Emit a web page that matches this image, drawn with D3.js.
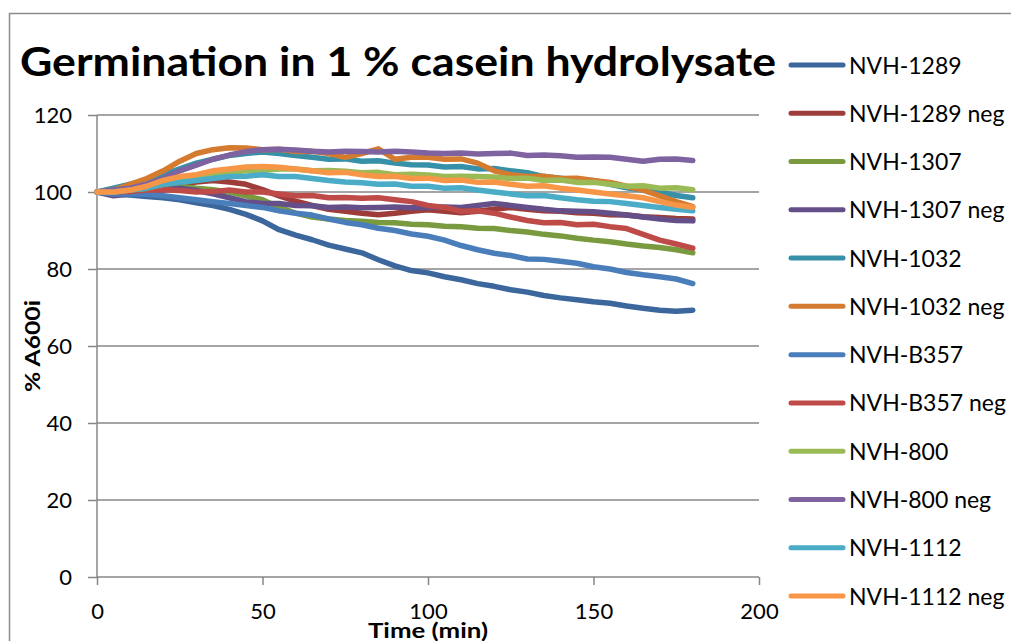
<!DOCTYPE html>
<html>
<head>
<meta charset="utf-8">
<script src="https://cdn.jsdelivr.net/npm/d3@7"></script>
<style>
  html, body { margin: 0; padding: 0; background: #fff; }
  svg { display: block; font-family: Lato, "Open Sans", sans-serif; }
</style>
</head>
<body>
<svg id="chart" width="1011" height="641"></svg>
<script>
// ---- data (every 5 min) ----
const minutes = [0, 5, 10, 15, 20, 25, 30, 35, 40, 45, 50, 55, 60, 65, 70, 75, 80, 85, 90,
  95, 100, 105, 110, 115, 120, 125, 130, 135, 140, 145, 150, 155, 160, 165, 170, 175, 180];

const seriesNames = ['NVH-1289', 'NVH-1289 neg', 'NVH-1307', 'NVH-1307 neg', 'NVH-1032', 'NVH-1032 neg',
  'NVH-B357', 'NVH-B357 neg', 'NVH-800', 'NVH-800 neg', 'NVH-1112', 'NVH-1112 neg'];

const seriesColors = ['#3c679c', '#9d3c39', '#7a9a3f', '#644f88', '#3690a8', '#d47b30',
  '#4a7ebb', '#be4b48', '#99ba55', '#7f63a1', '#4aacc6', '#f79646'];

const nvh1289 = [100, 99.5, 99.2, 98.8, 98.5, 98, 97.2, 96.5, 95.5, 94.2, 92.5, 90.2, 88.8, 87.6, 86.2, 85.2, 84.2, 82.4,
  80.8, 79.6, 79, 78, 77.2, 76.2, 75.5, 74.6, 74, 73.1, 72.5, 72, 71.5, 71.1, 70.4, 69.8, 69.3, 69, 69.3];
const nvh1289neg = [100, 100.4, 100.6, 101, 101.5, 102, 102.6, 103, 102.6, 102, 100.6, 99, 97.6, 96.5, 95.5, 95, 94.5, 94.1,
  94.5, 95, 95.4, 95, 94.6, 95, 95.5, 96, 95.5, 95.1, 95, 94.6, 94.5, 94.1, 94, 93.6, 93.4, 93.1, 93];
const nvh1307 = [100, 100, 100.5, 101, 101.4, 101.5, 101, 100.6, 100, 99, 98, 96, 94.5, 93.5, 93, 92.6, 92.4, 92.1,
  92, 91.6, 91.5, 91.1, 91, 90.6, 90.5, 90, 89.6, 89, 88.6, 88, 87.5, 87.1, 86.5, 86, 85.6, 85, 84.2];
const nvh1307neg = [100, 99, 99.5, 100, 100.5, 101, 100.4, 99.5, 98.5, 97.5, 97, 97, 96.5, 96.4, 96, 96.1, 95.9, 96,
  96.1, 95.9, 96, 96.1, 96, 96.5, 97, 96.5, 96, 95.5, 95.1, 95, 94.9, 94.5, 94, 93.5, 93, 92.6, 92.5];
const nvh1032 = [100, 101, 102, 103, 104.5, 106, 107.5, 108.5, 109.5, 110, 110.4, 110, 109.5, 109, 108.5, 108.6, 108, 108.1,
  107.5, 107.1, 107, 106.5, 106.6, 106, 106.1, 105.5, 105, 104, 103.6, 103, 103, 102, 101.1, 100.5, 100, 99.1, 98.5];
const nvh1032neg = [100, 100.5, 102, 103.5, 105.5, 108, 110, 111, 111.5, 111.4, 111, 111.1, 110.5, 110.6, 110, 109, 110, 111.2,
  108.5, 109, 109, 108.5, 108.6, 107.5, 105.5, 104.5, 104, 104.1, 103.5, 103.6, 103, 102.5, 101.5, 100.5, 99, 97.5, 96.2];
const nvhB357 = [100, 99.5, 99.5, 99.4, 99, 98.5, 98, 97.5, 97, 96.5, 96, 95.1, 94.5, 94, 93, 92.1, 91.5, 90.6,
  90, 89.1, 88.5, 87.5, 86.1, 85, 84.1, 83.5, 82.6, 82.5, 82, 81.5, 80.6, 80, 79.1, 78.5, 78, 77.4, 76.2];
const nvhB357neg = [100, 100, 100.1, 100.5, 100.6, 100.4, 100, 100.1, 100.5, 100, 100, 99.5, 99, 99.1, 98.5, 98.6, 98.4, 98.5,
  98, 97.5, 96.5, 96, 95, 95.1, 94.5, 93.5, 92.6, 92, 92.1, 91.5, 91.6, 91, 90.5, 89, 87.5, 86.5, 85.4];
const nvh800 = [100, 100, 100.5, 101, 102, 103, 104, 104.5, 105, 105.5, 105.6, 106, 106, 105.5, 105.6, 105.4, 105, 105.1,
  104.5, 104.6, 104.4, 104, 104.1, 104, 103.9, 103.5, 103.6, 103, 103.1, 102.5, 102.5, 102, 101.5, 101.6, 101, 101.1, 100.6];
const nvh800neg = [100, 100.5, 101, 102, 103.5, 105.5, 107, 108.5, 109.6, 110.5, 111, 111.1, 110.9, 110.6, 110.4, 110.6, 110.5, 110.4,
  110.6, 110.4, 110.1, 110, 110.1, 109.9, 110, 110.1, 109.5, 109.6, 109.4, 109, 109.1, 109, 108.5, 108, 108.5, 108.6, 108.2];
const nvh1112 = [100, 100, 100.5, 101, 102, 102.5, 103, 103.5, 104, 104.1, 104.5, 104, 104, 103.5, 103, 102.6, 102.4, 102,
  102.1, 101.5, 101.5, 101, 101.1, 100.5, 100, 99.5, 99, 99.1, 98.5, 98, 97.6, 97.5, 97, 96.5, 96, 95.5, 95.1];
const nvh1112neg = [100, 100, 100.5, 101.5, 103, 104, 104.5, 105.5, 106, 106.5, 106.6, 106.4, 106, 105.5, 105, 105.1, 104.5, 104,
  104.1, 103.5, 103.6, 103, 103.1, 102.5, 102.6, 102, 101.5, 101.6, 101, 100.5, 100, 99.5, 99, 98.5, 97.5, 96.6, 96];

const seriesValues = [nvh1289, nvh1289neg, nvh1307, nvh1307neg, nvh1032, nvh1032neg,
  nvhB357, nvhB357neg, nvh800, nvh800neg, nvh1112, nvh1112neg];

const yTicks = [0, 20, 40, 60, 80, 100, 120];
const xTicks = [0, 50, 100, 150, 200];

// ---- drawing ----
const svg = d3.select('#chart');
const axisGrey = '#878787';

// outer chart border (cropped on right/bottom)
svg.append('path')
  .attr('d', 'M9.5,641 V13.5 H1011')
  .attr('fill', 'none').attr('stroke', '#8c8c8c').attr('stroke-width', 1.5);

const x = d3.scaleLinear().domain([0, 200]).range([97, 759]);
const y = d3.scaleLinear().domain([0, 120]).range([577, 115]);

// gridlines
svg.append('g').selectAll('line')
  .data(yTicks.filter(v => v > 0))
  .enter().append('line')
  .attr('x1', x(0)).attr('x2', x(200))
  .attr('y1', d => y(d)).attr('y2', d => y(d))
  .attr('stroke', axisGrey).attr('stroke-width', 1.5);

// y axis
const yAxis = svg.append('g')
  .attr('transform', `translate(${x(0)},0)`)
  .call(d3.axisLeft(y).tickValues(yTicks).tickSize(9).tickPadding(16));
// x axis
const xAxis = svg.append('g')
  .attr('transform', `translate(0,${y(0)})`)
  .call(d3.axisBottom(x).tickValues(xTicks).tickSize(8).tickPadding(18));

[yAxis, xAxis].forEach(ax => {
  ax.select('.domain').attr('stroke', axisGrey).attr('stroke-width', 1.5);
  ax.selectAll('.tick line').attr('stroke', axisGrey).attr('stroke-width', 1.5);
  ax.selectAll('.tick text')
    .attr('fill', '#000')
    .style('font-family', 'Lato, sans-serif')
    .style('font-size', '22px');
});
// x-axis ticks hang below the axis only
xAxis.selectAll('.tick line').attr('y1', 0).attr('y2', 8);
xAxis.select('.domain').attr('d', `M${x(0)},0H${x(200)}`);
yAxis.select('.domain').attr('d', `M0,${y(0)}V${y(120)}`);

// series
const line = d3.line()
  .x((d, i) => x(minutes[i]))
  .y(d => y(d));

svg.append('g').selectAll('path')
  .data(seriesValues)
  .enter().append('path')
  .attr('d', d => line(d))
  .attr('fill', 'none')
  .attr('stroke', (d, i) => seriesColors[i])
  .attr('stroke-width', 5.5)
  .attr('stroke-linejoin', 'round')
  .attr('stroke-linecap', 'round');

// title
svg.append('text')
  .attr('x', 20).attr('y', 76)
  .attr('textLength', 756).attr('lengthAdjust', 'spacingAndGlyphs')
  .style('font-size', '41px').style('font-weight', 'bold')
  .text('Germination in 1 % casein hydrolysate');

// axis titles
svg.append('text')
  .attr('transform', 'translate(40,346) rotate(-90)')
  .attr('text-anchor', 'middle')
  .attr('textLength', 92).attr('lengthAdjust', 'spacingAndGlyphs')
  .style('font-size', '21px').style('font-weight', 'bold')
  .text('% A600i');

svg.append('text')
  .attr('x', 428).attr('y', 638)
  .attr('text-anchor', 'middle')
  .attr('textLength', 120).attr('lengthAdjust', 'spacingAndGlyphs')
  .style('font-size', '21px').style('font-weight', 'bold')
  .text('Time (min)');

// legend
const legendY = d3.scaleLinear().domain([0, 11]).range([65, 596]);
const legend = svg.append('g').selectAll('g')
  .data(seriesNames)
  .enter().append('g')
  .attr('transform', (d, i) => `translate(0,${legendY(i)})`);

legend.append('line')
  .attr('x1', 791).attr('x2', 843)
  .attr('stroke', (d, i) => seriesColors[i])
  .attr('stroke-width', 5)
  .attr('stroke-linecap', 'round');

legend.append('text')
  .attr('x', 849).attr('y', 8.5)
  .style('font-size', '23px')
  .text(d => d);
</script>
</body>
</html>
